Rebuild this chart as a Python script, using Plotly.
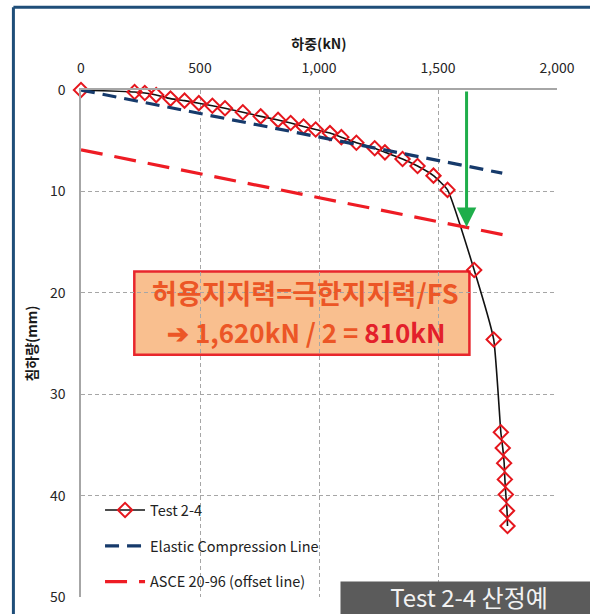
import plotly.graph_objects as go

# ---- data ----
test_load = [0, 225, 268, 316, 376, 435, 495, 552, 605, 680, 755, 828, 881, 935, 986,
             1046, 1094, 1157, 1234, 1277, 1351, 1414, 1481, 1540, 1652, 1734,
             1764, 1772, 1778, 1781, 1785, 1790, 1792]
test_settle = [0, 0.2, 0.3, 0.5, 0.85, 1.05, 1.3, 1.55, 1.8, 2.2, 2.6, 2.95, 3.25, 3.6, 3.9,
               4.25, 4.65, 5.2, 5.75, 6.15, 6.8, 7.5, 8.45, 9.85, 17.75, 24.6,
               33.75, 35.3, 36.8, 38.4, 39.9, 41.5, 43.0]
elastic_load = [0, 1770]
elastic_settle = [0, 8.2]
offset_load = [0, 1790]
offset_settle = [5.9, 14.35]
ultimate_load = 1620
ultimate_settle = 13.5
x_ticks = [0, 500, 1000, 1500, 2000]
y_ticks = [0, 10, 20, 30, 40, 50]

FONT = "Noto Sans CJK KR, Noto Sans, sans-serif"

fig = go.Figure()
fig.add_trace(go.Scatter(
    x=test_load, y=test_settle, name="Test 2-4", mode="lines+markers", cliponaxis=False,
    line=dict(color="#111111", width=1.6, shape="spline", smoothing=0.4),
    marker=dict(symbol="diamond-open", size=11, color="#E5161D", line=dict(width=2, color="#E5161D")),
    legendgroup="a"))
fig.add_trace(go.Scatter(
    x=elastic_load, y=elastic_settle, name="Elastic Compression Line", mode="lines",
    line=dict(color="#163A6B", width=3.2, dash="14px,8px"), legendgroup="b"))
fig.add_trace(go.Scatter(
    x=offset_load, y=offset_settle, name="ASCE 20-96 (offset line)", mode="lines",
    line=dict(color="#EE1C24", width=3.2, dash="22px,12px"), legendgroup="c"))

grid = dict(showgrid=True, gridcolor="#A6A6A6", griddash="4px,3px", gridwidth=1)

fig.update_layout(
    width=590, height=614,
    margin=dict(l=81, r=33, t=90, b=17),
    paper_bgcolor="white", plot_bgcolor="white",
    font=dict(family=FONT, color="#262626", size=13),
    xaxis=dict(range=[0, 2000], side="top", tickvals=x_ticks, tickformat=",",
               showline=True, linecolor="#A6A6A6", linewidth=1.5, ticks="", automargin=False,
               tickfont=dict(size=14, color="#262626"), ticklabelstandoff=10,
               title=dict(text="<b>하중(kN)</b>", font=dict(size=14, color="#1a1a1a"), standoff=4),
               zeroline=False, **grid),
    yaxis=dict(range=[50, 0], tickvals=y_ticks, showline=True, linecolor="#A6A6A6",
               linewidth=1.5, ticks="", zeroline=False, automargin=False,
               tickfont=dict(size=14, color="#262626"), ticklabelstandoff=11,
               title=dict(text="<b>침하량(mm)</b>", font=dict(size=14, color="#1a1a1a"), standoff=9),
               **grid),
    legend=dict(x=0.04, y=0.203, xanchor="left", yanchor="top", bgcolor="rgba(0,0,0,0)",
                font=dict(size=14.5, color="#222222", family=FONT), tracegroupgap=14,
                itemwidth=40),
    showlegend=True,
)

# frame border (left and top)
fig.add_shape(type="line", xref="paper", yref="paper", x0=-0.142, x1=-0.142, y0=-0.05, y1=1.163,
              line=dict(color="#1F4E79", width=3))
fig.add_shape(type="line", xref="paper", yref="paper", x0=-0.142, x1=1.08, y0=1.163, y1=1.163,
              line=dict(color="#1F4E79", width=3))

# orange callout box
fig.add_shape(type="rect", xref="paper", yref="paper", x0=0.112, x1=0.816, y0=0.478, y1=0.642,
              fillcolor="#F9BF8F", line=dict(color="#E8262C", width=2.5), layer="between")
fig.add_annotation(xref="paper", yref="paper", x=0.472, y=0.6006, showarrow=False,
                   text="<b>허용지지력=극한지지력/FS</b>",
                   font=dict(family=FONT, size=27, color="#EC5626"))
fig.add_annotation(xref="paper", yref="paper", x=0.472, y=0.5237, showarrow=False,
                   text="<b>➔ 1,620kN / 2 = <span style='color:#E3202B'>810kN</span></b>",
                   font=dict(family=FONT, size=26, color="#EC5626"))

# green arrow
fig.add_annotation(x=ultimate_load, y=ultimate_settle, ax=ultimate_load, ay=0,
                   xref="x", yref="y", axref="x", ayref="y", text="", showarrow=True,
                   arrowhead=2, arrowsize=1.3, arrowwidth=3, arrowcolor="#1FAE4B", standoff=0)

# bottom-right label
fig.add_annotation(xref="paper", yref="paper", x=0.545, y=0.0306, xanchor="left", yanchor="top",
                   showarrow=False, width=256, height=32, bgcolor="#5B5B5B", borderpad=0,
                   valign="bottom", align="center",
                   text="Test 2-4 산정예", font=dict(family=FONT, size=24, color="#F2F2F2"))

fig.write_html("out.html", config={"displayModeBar": False},
               post_script="document.body.style.margin='0';")
